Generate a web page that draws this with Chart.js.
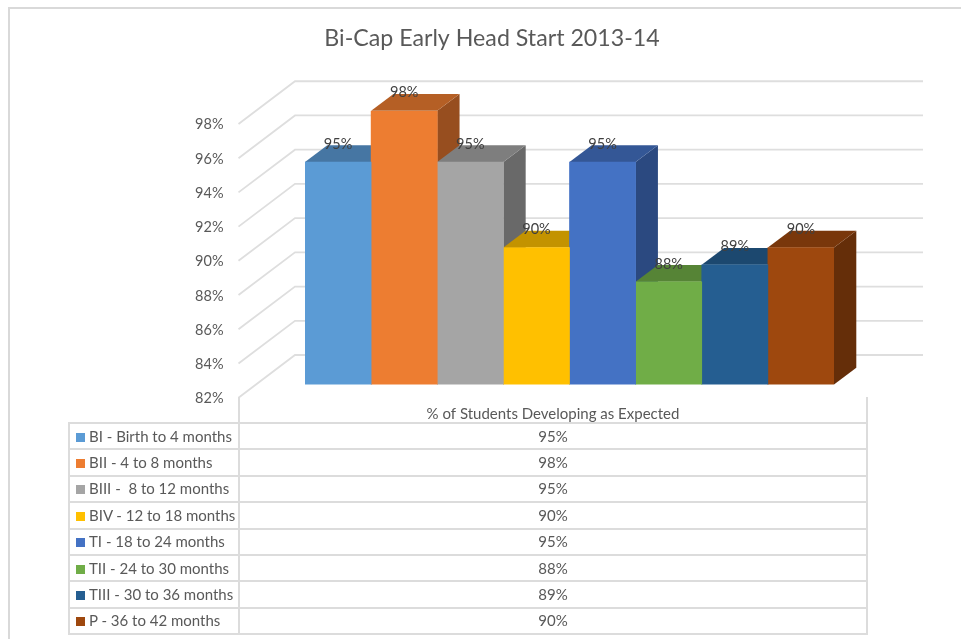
<!DOCTYPE html>
<html>
<head>
<meta charset="utf-8">
<title>Bi-Cap Early Head Start 2013-14</title>
<script src="https://cdn.jsdelivr.net/npm/chart.js@4"></script>
<style>
	html, body { margin: 0; padding: 0; background: #ffffff; overflow: hidden; }
	#frame { position: absolute; left: 8px; top: 7px; right: 0; bottom: 0; border-left: 2px solid #d9d9d9; border-top: 2px solid #d9d9d9; }
	#chart { position: absolute; left: 150px; top: 0; }
	#table { position: absolute; left: 68px; top: 397px; width: 800px; border-collapse: collapse; table-layout: fixed; font: 15px Lato, sans-serif; color: #595959; }
	#table td { border: 2px solid #dcdcdc; height: 24.4px; padding: 0; line-height: 1; white-space: pre; }
	#table tr.head td { border-top: none; border-left: none; height: 25px; }
	#table tr.head td + td { border-left: 2px solid #dcdcdc; }
	#table td.name { width: 170px; padding-left: 6px; box-sizing: border-box; }
	#table td.value { text-align: center; }
	#table .key { display: inline-block; width: 9px; height: 9px; margin-right: 4px; }
</style>
</head>
<body>
<div id="frame"></div>
<canvas id="chart" width="811" height="639"></canvas>
<table id="table"></table>
<script>
const chartTitle = "Bi-Cap Early Head Start 2013-14";
const categoryLabel = "% of Students Developing as Expected";
const seriesNames = [
	"BI - Birth to 4 months",
	"BII - 4 to 8 months",
	"BIII -  8 to 12 months",
	"BIV - 12 to 18 months",
	"TI - 18 to 24 months",
	"TII - 24 to 30 months",
	"TIII - 30 to 36 months",
	"P - 36 to 42 months",
];
const seriesValues = [95, 98, 95, 90, 95, 88, 89, 90];
const frontColors = ["#5b9bd5", "#ed7d31", "#a5a5a5", "#ffc000", "#4472c4", "#70ad47", "#255e91", "#9e480e"];
const topColors = ["#4676a3", "#b55f25", "#7e7e7e", "#c39300", "#345796", "#568436", "#1c486f", "#79370b"];
const sideColors = ["#3a6188", "#974e1f", "#696969", "#a37a00", "#2b4980", "#476e2d", "#183c5c", "#652e09"];

const tickColor = "#595959";
const labelColor = "#404040";
const lineColor = "#dedede";

// the plot plane is the front of the bars, walls and floor are offset from it
const depthX = 22.3;
const depthY = 16.8;
const floorDrop = 13.2;
const wallRise = 29.5;
const floorX = 88.5;
const wallX = 145;
const wallRight = 773;

function drawPolygon(ctx, points, color) {
	ctx.fillStyle = color;
	ctx.beginPath();
	points.forEach(([x, y], index) => {
		if (index === 0) {
			ctx.moveTo(x, y);
		} else {
			ctx.lineTo(x, y);
		}
	});
	ctx.closePath();
	ctx.fill();
}

const depthPlugin = {
	id: "depth",
	beforeDatasetsDraw(chart) {
		const { ctx, scales, chartArea } = chart;
		ctx.save();
		ctx.strokeStyle = lineColor;
		ctx.lineWidth = 1.8;
		scales.y.ticks.forEach((tick) => {
			const y = scales.y.getPixelForValue(tick.value);
			ctx.beginPath();
			ctx.moveTo(floorX, y + floorDrop);
			ctx.lineTo(wallX, y - wallRise);
			ctx.lineTo(wallRight, y - wallRise);
			ctx.stroke();
		});
		// sides and tops left to right, the library then paints the fronts over them
		seriesValues.forEach((value, index) => {
			const bar = chart.getDatasetMeta(index).data[0];
			const left = bar.x - bar.width / 2;
			const right = bar.x + bar.width / 2;
			const floor = chartArea.bottom;
			drawPolygon(ctx, [
				[right, bar.y],
				[right + depthX, bar.y - depthY],
				[right + depthX, floor - depthY],
				[right, floor],
			], sideColors[index]);
			drawPolygon(ctx, [
				[left, bar.y],
				[right, bar.y],
				[right + depthX, bar.y - depthY],
				[left + depthX, bar.y - depthY],
			], topColors[index]);
		});
		ctx.restore();
	},
	afterDatasetsDraw(chart) {
		const { ctx } = chart;
		ctx.save();
		ctx.font = "14.5px Lato, sans-serif";
		ctx.fillStyle = labelColor;
		ctx.textAlign = "center";
		ctx.textBaseline = "middle";
		seriesValues.forEach((value, index) => {
			const bar = chart.getDatasetMeta(index).data[0];
			ctx.fillText(value + "%", bar.x, bar.y - 18);
		});
		ctx.restore();
	},
};

function buildTable() {
	const table = document.getElementById("table");
	const head = table.insertRow();
	head.className = "head";
	head.insertCell().className = "name";
	head.insertCell().className = "value";
	seriesNames.forEach((name, index) => {
		const row = table.insertRow();
		const nameCell = row.insertCell();
		nameCell.className = "name";
		const key = document.createElement("span");
		key.className = "key";
		key.style.background = frontColors[index];
		nameCell.appendChild(key);
		nameCell.appendChild(document.createTextNode(name));
		const valueCell = row.insertCell();
		valueCell.className = "value";
		valueCell.textContent = seriesValues[index] + "%";
	});
}

buildTable();

new Chart(document.getElementById("chart"), {
	type: "bar",
	data: {
		labels: [categoryLabel],
		datasets: seriesNames.map((name, index) => ({
			label: name,
			data: [seriesValues[index]],
			backgroundColor: frontColors[index],
			categoryPercentage: 1,
			barPercentage: 1,
		})),
	},
	options: {
		responsive: false,
		animation: false,
		layout: { padding: { right: 127 } },
		plugins: {
			legend: { display: false },
			tooltip: { enabled: false },
			title: {
				display: true,
				text: chartTitle,
				color: tickColor,
				font: { family: "Lato, sans-serif", size: 23.2, weight: "normal", lineHeight: 1.2 },
				padding: { top: 25, bottom: 57.9 },
			},
		},
		scales: {
			x: {
				grid: { display: false },
				border: { display: false },
				ticks: {
					color: tickColor,
					font: { family: "Lato, sans-serif", size: 15 },
					padding: 13,
					labelOffset: -16.5,
					maxRotation: 0,
				},
				afterFit(scale) {
					scale.height = 254.5;
				},
			},
			y: {
				min: 82,
				max: 98,
				grid: { display: false },
				border: { display: false },
				ticks: {
					stepSize: 2,
					color: tickColor,
					font: { family: "Lato, sans-serif", size: 14.5 },
					padding: 73.5,
					labelOffset: floorDrop + 0.8,
					callback: (value) => value + "%",
				},
				afterFit(scale) {
					scale.width = 155;
				},
			},
		},
	},
	plugins: [depthPlugin],
});
</script>
</body>
</html>
